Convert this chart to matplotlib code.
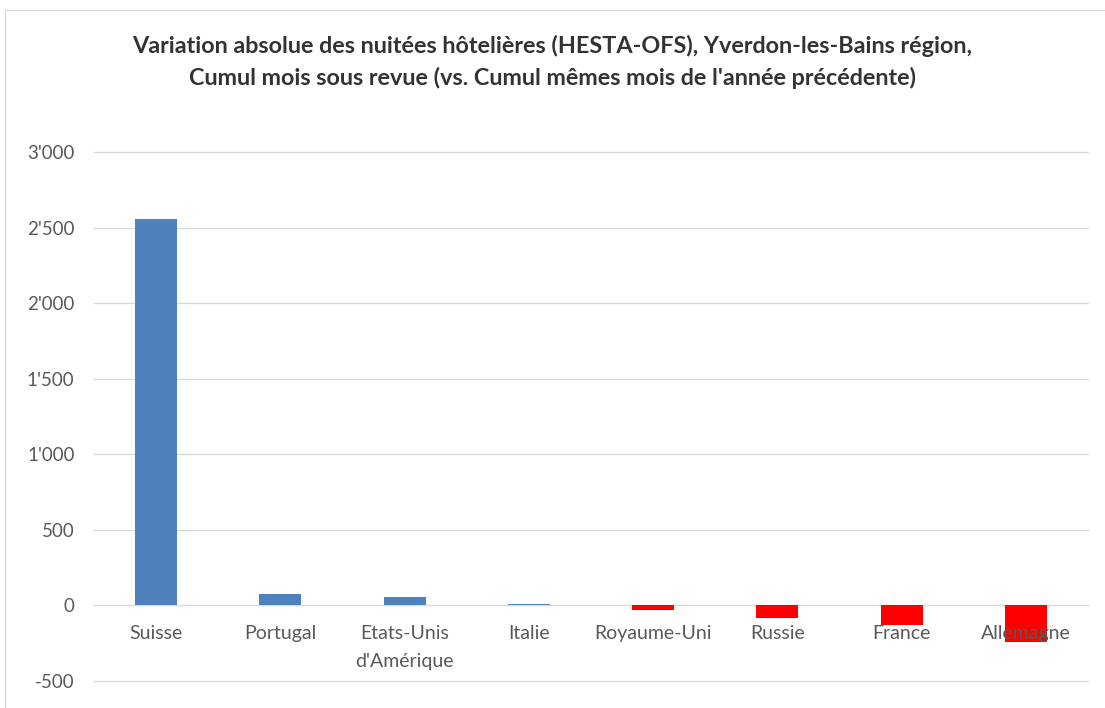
import matplotlib.pyplot as plt
import matplotlib.patches as mpatches
import numpy as np

# data
countries = ["Suisse", "Portugal", "Etats-Unis\nd'Amérique", "Italie",
             "Royaume-Uni", "Russie", "France", "Allemagne"]
variation = [2560, 77, 58, 11, -31, -84, -128, -243]
yticks = [-500, 0, 500, 1000, 1500, 2000, 2500, 3000]
ytick_labels = ["-500", "0", "500", "1'000", "1'500", "2'000", "2'500", "3'000"]

plt.rcParams["font.family"] = ["Lato", "DejaVu Sans"]

fig = plt.figure(figsize=(11.05, 7.08), dpi=100)
ax = fig.add_axes([94 / 1105, 1 - 681 / 708, (1088 - 94) / 1105, (681 - 152) / 708])

colors = ["#4F81BD" if v >= 0 else "#FF0000" for v in variation]
x = np.arange(len(countries))
ax.bar(x, variation, width=0.34, color=colors, zorder=3)

ax.set_xlim(-0.5, len(countries) - 0.5)
ax.set_ylim(-500, 3000)
ax.set_yticks(yticks)
ax.set_yticklabels(ytick_labels, fontsize=13.5, color="#595959")
for t in yticks:
    ax.axhline(t, color="#D9D9D9", linewidth=1, zorder=0, clip_on=False)
ax.tick_params(axis="both", length=0)
ax.tick_params(axis="y", pad=14)
for s in ax.spines.values():
    s.set_visible(False)
ax.set_xticks([])

# category labels just under the zero line
for i, name in enumerate(countries):
    ax.text(i, -130, name, ha="center", va="top", fontsize=14,
            color="#595959", linespacing=1.75, zorder=4)

fig.text(0.5, 1 - 62 / 708,
         "Variation absolue des nuitées hôtelières (HESTA-OFS), Yverdon-les-Bains région,\n"
         "Cumul mois sous revue (vs. Cumul mêmes mois de l'année précédente)",
         ha="center", va="center", fontsize=16.8, fontweight="bold",
         color="#333333", linespacing=1.55)

# chart-area border
fig.patches.append(mpatches.Rectangle((5 / 1105, -0.01), 1.1, 1 - 10 / 708 + 0.01,
                                      transform=fig.transFigure, fill=False,
                                      edgecolor="#D9D9D9", linewidth=1))

fig.savefig("out.png", dpi=100)
